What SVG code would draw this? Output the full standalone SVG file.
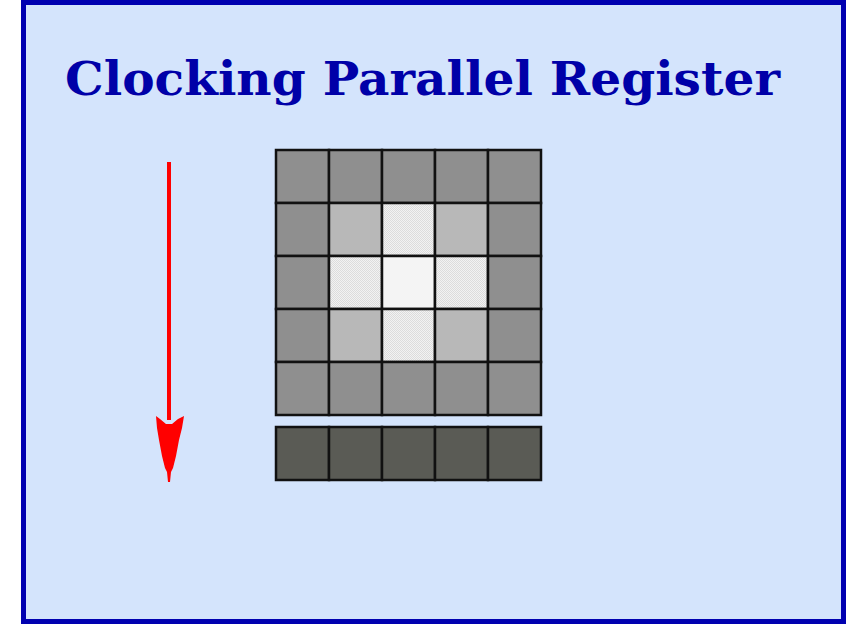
<svg xmlns="http://www.w3.org/2000/svg" width="859" height="624" viewBox="0 0 859 624">
<defs>
<pattern id="dots" width="2" height="2" patternUnits="userSpaceOnUse">
<rect width="2" height="2" fill="#f2f2f2"/>
<rect width="1" height="1" fill="#dcdcdc"/>
<rect x="1" y="1" width="1" height="1" fill="#dcdcdc"/>
</pattern>
</defs>
<style>
.c{stroke:#111;stroke-width:2.5}
.o{fill:#8f8f8f}
.m{fill:#b8b8b8}
.p{fill:url(#dots)}
.w{fill:#f4f4f4}
.d{fill:#5a5b55}
</style>
<rect id="frame" x="23.5" y="2.5" width="820" height="619" fill="#d4e4fc" stroke="#0000b0" stroke-width="5"/>
<text id="title" x="65" y="95" font-family="DejaVu Serif" font-weight="bold" font-size="46" fill="#0000a8" textLength="715" lengthAdjust="spacingAndGlyphs">Clocking Parallel Register</text>
<g id="grid">
<rect class="c o" x="276" y="150" width="53" height="53"/>
<rect class="c o" x="329" y="150" width="53" height="53"/>
<rect class="c o" x="382" y="150" width="53" height="53"/>
<rect class="c o" x="435" y="150" width="53" height="53"/>
<rect class="c o" x="488" y="150" width="53" height="53"/>
<rect class="c o" x="276" y="203" width="53" height="53"/>
<rect class="c m" x="329" y="203" width="53" height="53"/>
<rect class="c p" x="382" y="203" width="53" height="53"/>
<rect class="c m" x="435" y="203" width="53" height="53"/>
<rect class="c o" x="488" y="203" width="53" height="53"/>
<rect class="c o" x="276" y="256" width="53" height="53"/>
<rect class="c p" x="329" y="256" width="53" height="53"/>
<rect class="c w" x="382" y="256" width="53" height="53"/>
<rect class="c p" x="435" y="256" width="53" height="53"/>
<rect class="c o" x="488" y="256" width="53" height="53"/>
<rect class="c o" x="276" y="309" width="53" height="53"/>
<rect class="c m" x="329" y="309" width="53" height="53"/>
<rect class="c p" x="382" y="309" width="53" height="53"/>
<rect class="c m" x="435" y="309" width="53" height="53"/>
<rect class="c o" x="488" y="309" width="53" height="53"/>
<rect class="c o" x="276" y="362" width="53" height="53"/>
<rect class="c o" x="329" y="362" width="53" height="53"/>
<rect class="c o" x="382" y="362" width="53" height="53"/>
<rect class="c o" x="435" y="362" width="53" height="53"/>
<rect class="c o" x="488" y="362" width="53" height="53"/>
</g>
<g id="register">
<rect class="c d" x="276" y="427" width="53" height="53"/>
<rect class="c d" x="329" y="427" width="53" height="53"/>
<rect class="c d" x="382" y="427" width="53" height="53"/>
<rect class="c d" x="435" y="427" width="53" height="53"/>
<rect class="c d" x="488" y="427" width="53" height="53"/>
</g>
<g id="connectors">
<line x1="169" y1="162" x2="169" y2="420" stroke="#ff0000" stroke-width="4"/>
<polygon points="156,416 160,419 166,424 169,424 172,424 178,419 184,416 182,428 179,440 176,456 173,468 171,472 170,482 168,482 167,472 165,468 162,456 159,440 157,428" fill="#ff0000"/>
</g>
</svg>
